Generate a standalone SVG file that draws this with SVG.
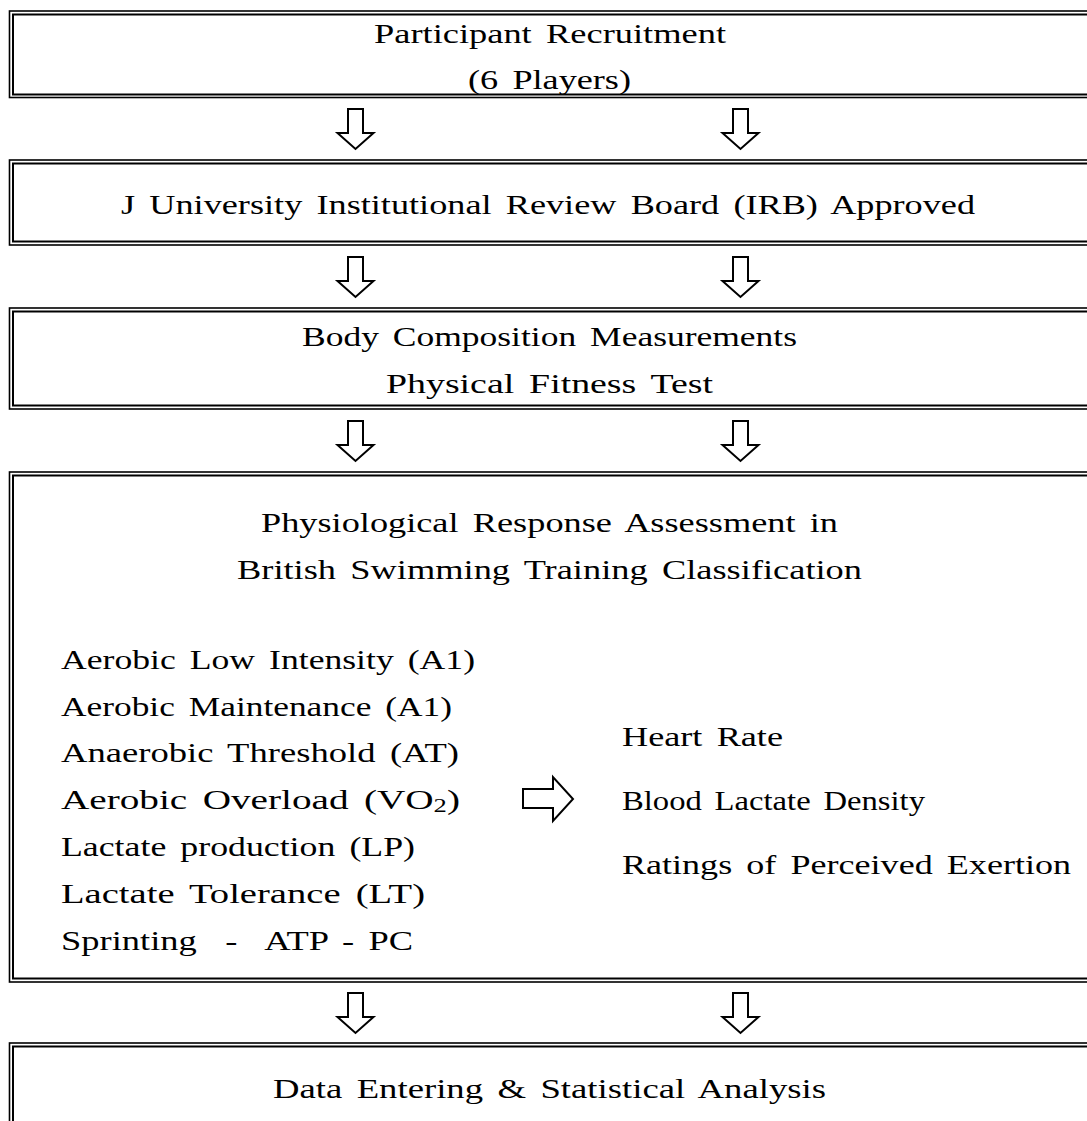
<svg xmlns="http://www.w3.org/2000/svg" width="1087" height="1121" viewBox="0 0 1087 1121">
<defs>
<style>
.bo{fill:none;stroke:#000;stroke-width:1.6}
.bi{fill:none;stroke:#000;stroke-width:2}
.t{font-family:"Liberation Serif","DejaVu Serif",serif;font-size:28px;fill:#000;word-spacing:4px}
.c{text-anchor:middle}
.ar{fill:#fff;stroke:#000;stroke-width:2;stroke-linejoin:miter}
</style>
<path id="down" class="ar" d="M-8,0 H7 V24 H17.5 L-0.5,40 L-18.5,24 H-8 Z"/>
</defs>
<rect width="1087" height="1121" fill="#fff"/>

<g id="node1">
<rect class="bo" x="9.5" y="11" width="1100" height="86.5"/>
<rect class="bi" x="13" y="14.5" width="1100" height="80"/>
<text class="t c" x="550" y="43" textLength="352" lengthAdjust="spacingAndGlyphs">Participant Recruitment</text>
<text class="t c" x="549.5" y="89" textLength="163" lengthAdjust="spacingAndGlyphs">(6 Players)</text>
</g>

<g id="node2">
<rect class="bo" x="9.5" y="160" width="1100" height="85"/>
<rect class="bi" x="13" y="163.5" width="1100" height="78"/>
<text class="t c" x="548" y="214" textLength="854" lengthAdjust="spacingAndGlyphs">J University Institutional Review Board (IRB) Approved</text>
</g>

<g id="node3">
<rect class="bo" x="9.5" y="308" width="1100" height="101"/>
<rect class="bi" x="13" y="311.5" width="1100" height="94"/>
<text class="t c" x="549.5" y="346" textLength="495" lengthAdjust="spacingAndGlyphs">Body Composition Measurements</text>
<text class="t c" x="549.5" y="393" textLength="327" lengthAdjust="spacingAndGlyphs">Physical Fitness Test</text>
</g>

<g id="node4">
<rect class="bo" x="9.5" y="472" width="1100" height="510"/>
<rect class="bi" x="13" y="475.5" width="1100" height="503"/>
<text class="t c" x="549.5" y="532" textLength="577" lengthAdjust="spacingAndGlyphs">Physiological Response Assessment in</text>
<text class="t c" x="549.5" y="579" textLength="625" lengthAdjust="spacingAndGlyphs">British Swimming Training Classification</text>
<text class="t" x="61" y="669" textLength="414" lengthAdjust="spacingAndGlyphs">Aerobic Low Intensity (A1)</text>
<text class="t" x="61" y="716" textLength="391" lengthAdjust="spacingAndGlyphs">Aerobic Maintenance (A1)</text>
<text class="t" x="61" y="762" textLength="398" lengthAdjust="spacingAndGlyphs">Anaerobic Threshold (AT)</text>
<text class="t" x="61" y="809" textLength="399" lengthAdjust="spacingAndGlyphs">Aerobic Overload (VO<tspan font-size="19" dy="3">2</tspan><tspan dy="-3">)</tspan></text>
<text class="t" x="61" y="856" textLength="354" lengthAdjust="spacingAndGlyphs">Lactate production (LP)</text>
<text class="t" x="61" y="903" textLength="364" lengthAdjust="spacingAndGlyphs">Lactate Tolerance (LT)</text>
<text class="t" x="61" y="950" textLength="352" lengthAdjust="spacingAndGlyphs" xml:space="preserve">Sprinting  -  ATP - PC</text>
<text class="t" x="622" y="746" textLength="161" lengthAdjust="spacingAndGlyphs">Heart Rate</text>
<text class="t" x="622" y="810" textLength="303" lengthAdjust="spacingAndGlyphs">Blood Lactate Density</text>
<text class="t" x="622" y="874" textLength="449" lengthAdjust="spacingAndGlyphs">Ratings of Perceived Exertion</text>
</g>

<g id="node5">
<rect class="bo" x="9.5" y="1043" width="1100" height="120"/>
<rect class="bi" x="13" y="1046.5" width="1100" height="120"/>
<text class="t c" x="549.5" y="1098" textLength="553" lengthAdjust="spacingAndGlyphs">Data Entering &amp; Statistical Analysis</text>
</g>

<g id="connectors">
<use href="#down" x="356" y="109"/>
<use href="#down" x="741" y="109"/>
<use href="#down" x="356" y="257"/>
<use href="#down" x="741" y="257"/>
<use href="#down" x="356" y="421"/>
<use href="#down" x="741" y="421"/>
<use href="#down" x="356" y="993"/>
<use href="#down" x="741" y="993"/>
<path class="ar" d="M523,789 H553 V777 L573,799 L553,821 V808 H523 Z"/>
</g>
</svg>
